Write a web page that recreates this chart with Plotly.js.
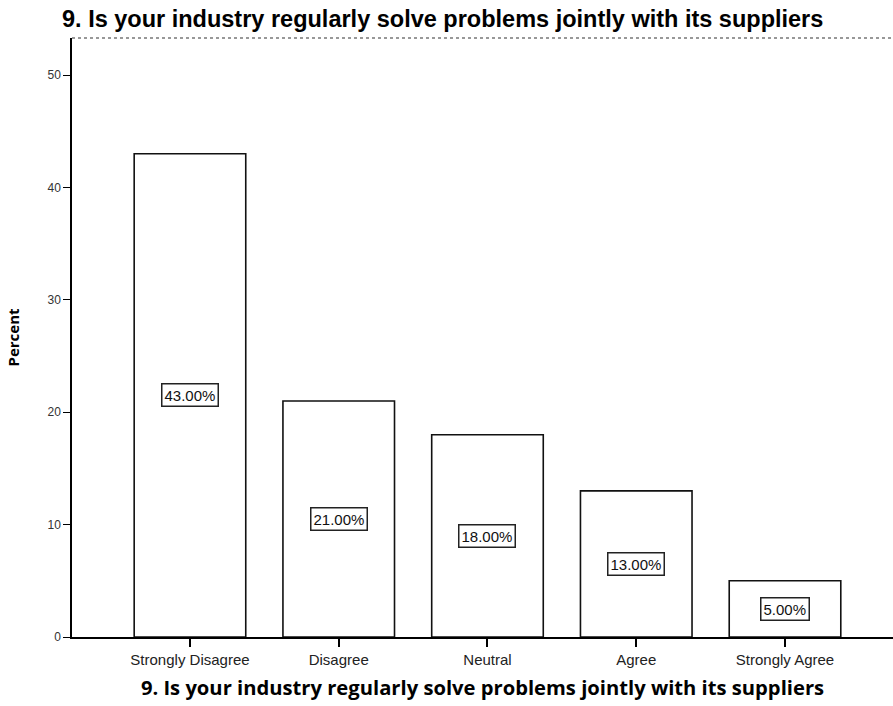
<!DOCTYPE html>
<html>
<head>
<meta charset="utf-8">
<script src="https://cdn.plot.ly/plotly-3.0.1.min.js"></script>
<style>html,body{margin:0;padding:0;background:#fff;}#chart{width:893px;height:706px;}</style>
</head>
<body>
<div id="chart"></div>
<script>
const categories = ["Strongly Disagree", "Disagree", "Neutral", "Agree", "Strongly Agree"];
const percents = [43, 21, 18, 13, 5];
const labels = ["43.00%", "21.00%", "18.00%", "13.00%", "5.00%"];
const yTicks = [0, 10, 20, 30, 40, 50];
const chartTitle = "9. Is your industry regularly solve problems jointly with its suppliers";

const trace = {
  type: "bar",
  x: categories,
  y: percents,
  width: 0.75,
  marker: {color: "#ffffff", line: {color: "#111111", width: 1.6}},
  hoverinfo: "x+y"
};

const annotations = categories.map((c, i) => ({
  x: c, y: percents[i] / 2, xref: "x", yref: "y",
  text: labels[i], showarrow: false,
  font: {family: "Arial, 'Liberation Sans', sans-serif", size: 15, color: "#111"},
  bgcolor: "#ffffff", bordercolor: "#222", borderwidth: 1.5, borderpad: 2
}));

const layout = {
  width: 893, height: 706,
  margin: {l: 72, r: 0, t: 38, b: 69},
  paper_bgcolor: "#fff", plot_bgcolor: "#fff",
  showlegend: false,
  title: {
    text: "<b>" + chartTitle + "</b>",
    font: {family: "Arial, 'Liberation Sans', sans-serif", size: 23.5, color: "#000"},
    xref: "container", yref: "container",
    x: 62 / 893, xanchor: "left", y: 1 - 19 / 706, yanchor: "middle"
  },
  xaxis: {
    type: "category",
    range: [-0.793, 4.726],
    showline: true, linecolor: "#000", linewidth: 1.5,
    ticks: "outside", ticklen: 8, tickcolor: "#000", tickwidth: 1.5,
    showgrid: false, zeroline: false,
    tickfont: {family: "Arial, 'Liberation Sans', sans-serif", size: 15, color: "#222"},
    title: {
      text: "<b>" + chartTitle + "</b>",
      font: {family: "'Open Sans', sans-serif", size: 20.2, color: "#000"},
      standoff: 14
    }
  },
  yaxis: {
    range: [0, 53.3],
    tickvals: yTicks,
    showline: true, linecolor: "#000", linewidth: 1.5,
    ticks: "outside", ticklen: 7, tickcolor: "#000", tickwidth: 1.2,
    showgrid: false, zeroline: false,
    tickfont: {family: "Arial, 'Liberation Sans', sans-serif", size: 12, color: "#333"},
    title: {
      text: "<b>Percent</b>",
      font: {family: "'Open Sans', sans-serif", size: 15, color: "#000"},
      standoff: 24
    }
  },
  shapes: [{
    type: "line", xref: "paper", yref: "paper", x0: 0, x1: 1, y0: 1, y1: 1,
    line: {color: "#777", width: 1.5, dash: "dot"}
  }],
  annotations: annotations
};

Plotly.newPlot("chart", [trace], layout, {displayModeBar: false, responsive: false});
</script>
</body>
</html>
